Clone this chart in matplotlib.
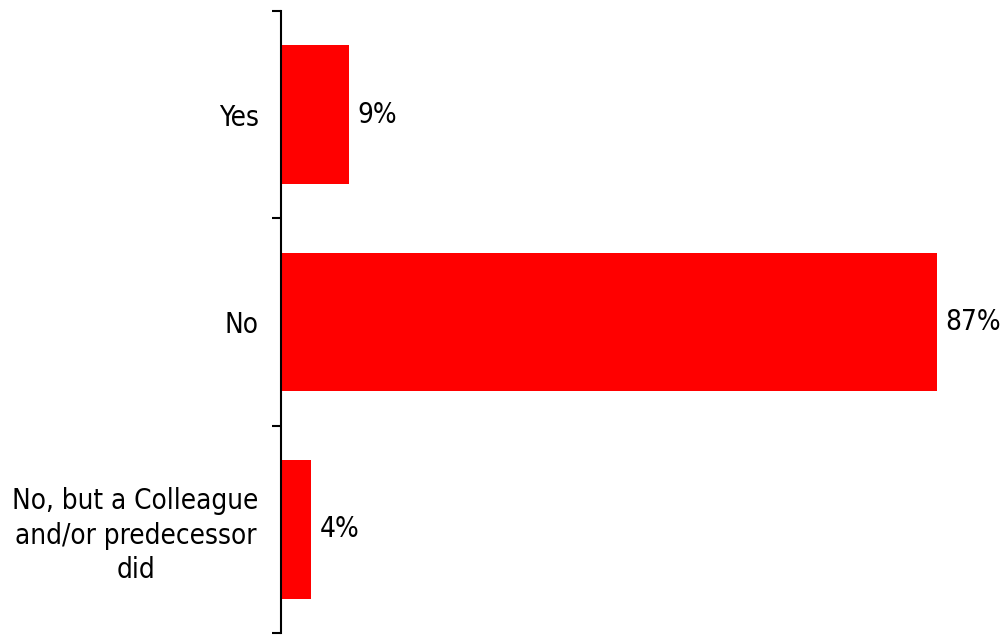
import matplotlib
matplotlib.use("Agg")
import matplotlib.pyplot as plt
from matplotlib import font_manager
import numpy as np

categories = ["Yes", "No", "No, but a Colleague\nand/or predecessor\ndid"]
values = [9, 87, 4]
value_labels = ["9%", "87%", "4%"]

# Prefer a condensed humanist sans (closest to Tahoma); fall back to DejaVu Sans
cond = [f for f in font_manager.fontManager.ttflist
        if f.name == "DejaVu Sans" and "ondensed" in f.fname and f.weight in (400, "normal") and f.style == "normal"]
if cond:
    FP = dict(fontproperties=font_manager.FontProperties(fname=cond[0].fname, size=20))
else:
    FP = dict(fontproperties=font_manager.FontProperties(family="DejaVu Sans", size=18.5))

W, H = 1007, 637
fig = plt.figure(figsize=(W / 100, H / 100), dpi=100)
left_px, right_px, top_px, bottom_px = 281, 1000, 11, 633
ax = fig.add_axes([left_px / W, 1 - bottom_px / H, (right_px - left_px) / W, (bottom_px - top_px) / H])

y = np.arange(len(categories))
bars = ax.barh(y, values, height=0.67, color="#FF0000", zorder=2)
ax.set_ylim(len(categories) - 0.5, -0.5)
# 87% bar ends at pixel 937
ax.set_xlim(0, values[1] * (right_px - left_px) / (937 - left_px))

txts = ax.bar_label(bars, labels=value_labels, padding=6, color="black")
for t in txts:
    t.set_fontproperties(FP["fontproperties"])

for s in ["top", "right", "bottom"]:
    ax.spines[s].set_visible(False)
ax.spines["left"].set_linewidth(1.5)
ax.spines["left"].set_color("black")
ax.set_xticks([])

ax.set_yticks(np.arange(-0.5, len(categories) + 0.5, 1.0))
ax.set_yticklabels([])
ax.tick_params(axis="y", which="major", direction="out", length=6.5, width=1.5, color="black")
ax.set_yticks(y, minor=True)
ax.set_yticklabels(categories, minor=True, linespacing=1.3)
ax.tick_params(axis="y", which="minor", length=0, pad=16)
for lab in ax.get_yticklabels(minor=True):
    lab.set_fontproperties(FP["fontproperties"])
    lab.set_multialignment("center")

fig.savefig("out.png", dpi=100, facecolor="white")
